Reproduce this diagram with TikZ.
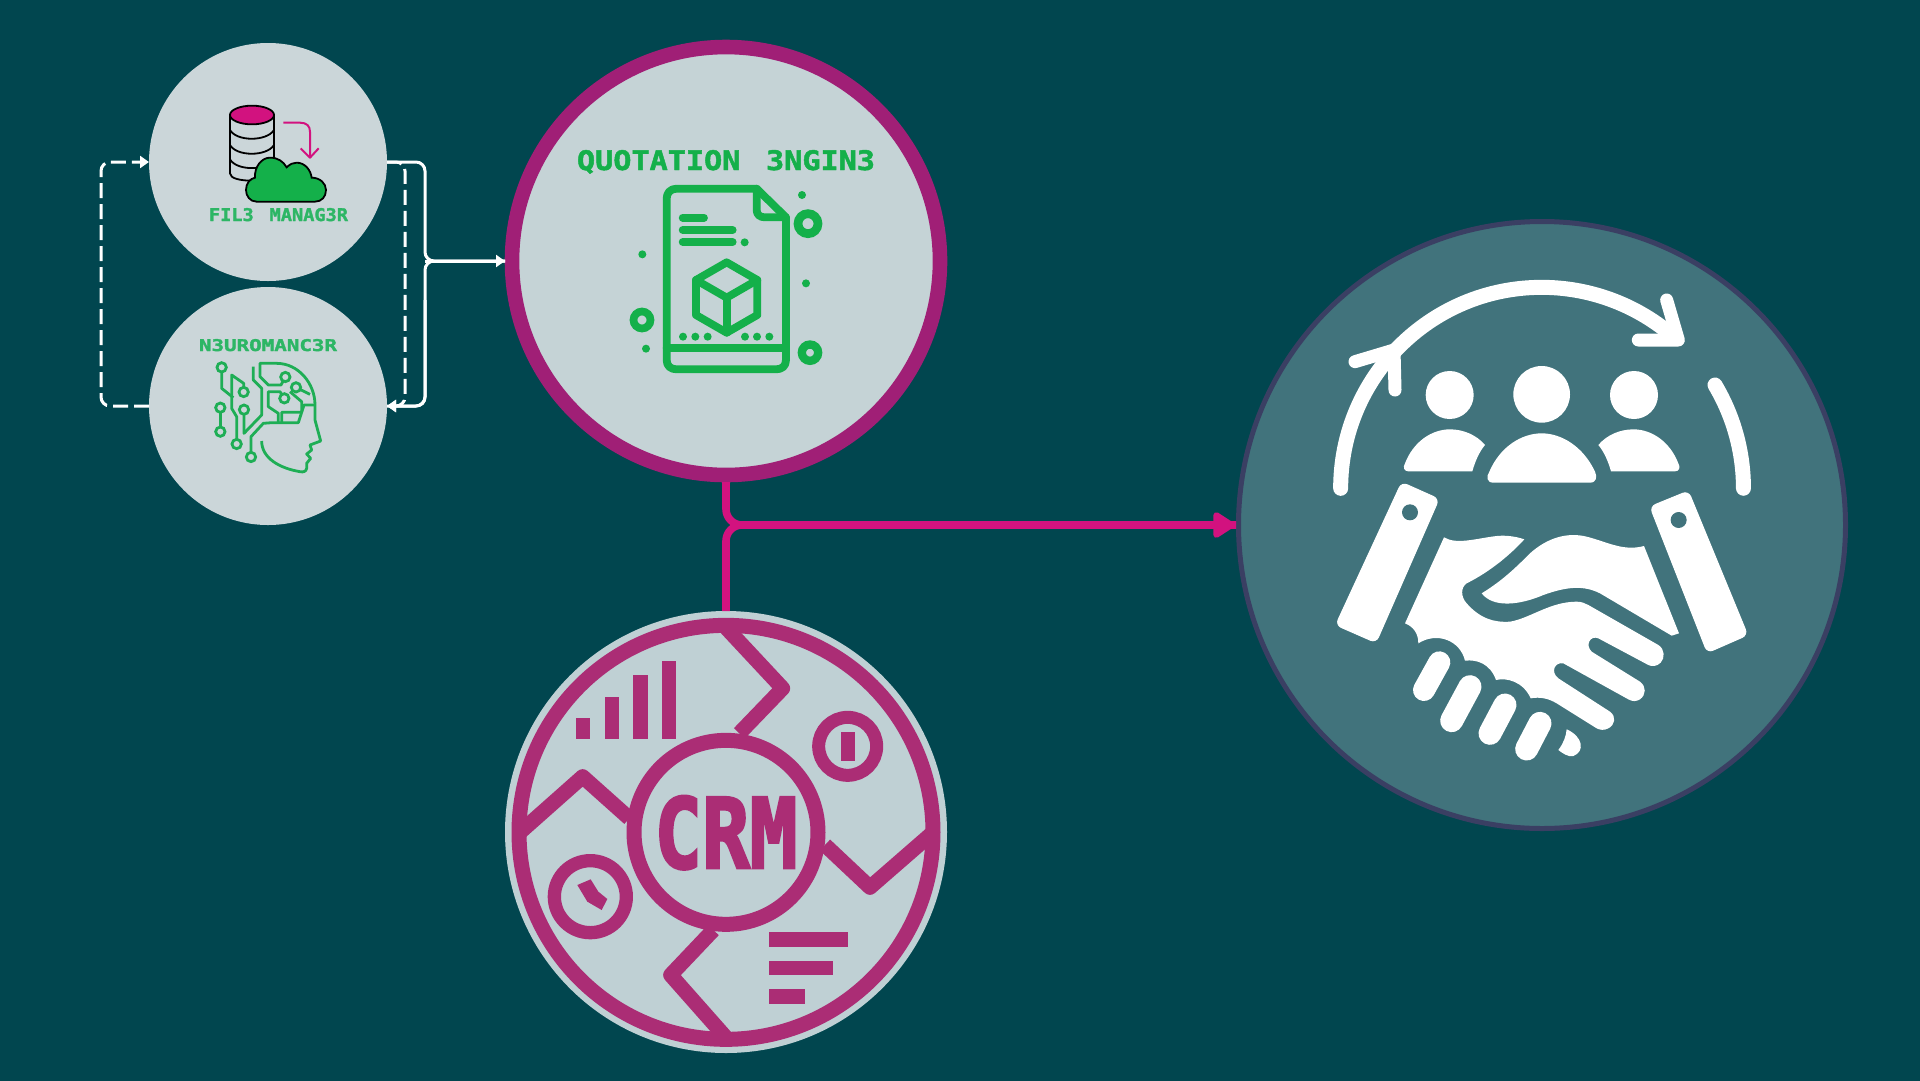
\documentclass[tikz,border=0pt]{standalone}
\usepackage{fontspec}
\usepackage{graphicx}
\usetikzlibrary{arrows.meta}
\newfontfamily\lblfont[FakeBold=1.6]{DejaVu Sans Mono}
\newfontfamily\crmfont[FakeBold=3]{DejaVu Sans Mono}
\newcommand{\fitlabel}[3]{\resizebox{#1pt}{#2pt}{\raisebox{0pt}[\height][0pt]{\lblfont\bfseries #3}}}
\definecolor{bgc}{HTML}{01464F}
\definecolor{discc}{HTML}{CBD6D9}
\definecolor{qfill}{HTML}{C5D3D6}
\definecolor{qring}{HTML}{A01F76}
\definecolor{cfill}{HTML}{BFD0D4}
\definecolor{cring}{HTML}{AB2D75}
\definecolor{custfill}{HTML}{41737C}
\definecolor{custring}{HTML}{3A3F63}
\definecolor{magline}{HTML}{D2127F}
\definecolor{gicon}{HTML}{14B04A}
\definecolor{gtext}{HTML}{2DB665}
\definecolor{ghead}{HTML}{1EAE55}
\tikzset{
  disc/.style={circle,inner sep=0pt,outer sep=0pt,minimum size=238pt,fill=discc},
  wire/.style={draw=white,line width=3pt,rounded corners=9pt},
  dashwire/.style={wire,dash pattern=on 15pt off 6pt},
  wtip/.style={-{Triangle[length=9pt,width=12pt]}},
  magwire/.style={draw=magline,line width=7.6pt,rounded corners=16pt},
  magtip/.style={-{Triangle[length=24pt,width=29pt,round]},shorten >=1.5pt},
  lbl/.style={inner sep=0pt,outer sep=0pt},
  doc/.style={draw=gicon,line width=7.8pt,line join=round,line cap=round},
  hd/.style={draw=ghead,line width=2.8pt,line join=round,fill=none},
  hdc/.style={draw=ghead,line width=2.8pt,fill=discc},
  crmline/.style={draw=cring,line width=15pt,line join=round},
  ww/.style={draw=white,line cap=round,line join=round},
}
\begin{document}
\begin{tikzpicture}[x=1pt,y=-1pt]
\useasboundingbox (0,0) rectangle (1920,1080);
\fill[bgc] (-5,-5) rectangle (1925,1085);
% main nodes
\node[disc] (fm) at (268,162) {};
\node[disc] (nm) at (268,406) {};
\node[circle,inner sep=0pt,outer sep=7pt,minimum size=428pt,fill=qfill,draw=qring,line width=14.6pt] (qe) at (726,261) {};
\node[circle,inner sep=0pt,outer sep=0pt,minimum size=442pt,fill=cfill] (crm) at (726,832) {};
\node[circle,inner sep=0pt,outer sep=2.5pt,minimum size=607pt,fill=custfill,draw=custring,line width=5pt] (cust) at (1542,525) {};
\coordinate (J) at (425,261);
\coordinate (dl) at (101,284);
\coordinate (dr) at (405,284);
% connectors
\draw[dashwire,wtip] (nm.west) -| (dl) |- (fm.west);
\draw[dashwire,wtip] (fm.east) -| (dr) |- (nm.east);
\draw[wire] (fm.east) -| (J) -- (qe.west);
\draw[wire,wtip] (J) -- (qe.west);
\draw[wire] (nm.east) -| (J) -- (qe.west);
\draw[wire,wtip] (425,300) |- (nm.east);
\draw[magwire] (crm.north) |- (cust.west);
\draw[magwire,magtip] (qe.south) |- (cust.west);
% ---------- file manager icon
\begin{scope}[shift={(90,30)},scale=1/3]
  \filldraw[draw=black,fill=discc,line width=1.8pt] (420,255) -- (420,430) .. controls (420,445) and (450,452) .. (486,452) -- (552,400) -- (552,255) -- cycle;
  \foreach \yy in {300,345,388}
    \draw[black,line width=1.8pt] (420,\yy) .. controls (440,\yy+35) and (530,\yy+35) .. (552,\yy);
  \filldraw[draw=black,fill=magline,line width=1.8pt] (486,255) ellipse (66 and 28);
  \draw[draw=magline,line width=2pt,line join=round] (580,278) -- (630,278) .. controls (650,278) and (660,288) .. (660,305) -- (660,381);
  \draw[draw=magline,line width=2pt,line join=round] (632,355) -- (660,383) -- (686,355);
  \filldraw[draw=black,fill=gicon,line width=1.8pt] (500,515) .. controls (480,515) and (468,498) .. (468,480) .. controls (468,460) and (480,446) .. (495,443) .. controls (493,410) and (515,383) .. (540,383) .. controls (565,383) and (580,395) .. (590,412) .. controls (600,402) and (610,398) .. (620,398) .. controls (645,398) and (662,420) .. (665,443) .. controls (690,443) and (708,460) .. (708,480) .. controls (708,500) and (695,515) .. (675,515) -- cycle;
\end{scope}
\node[lbl,text=gtext] (fmlabel) at (278.5,214.5) {\fitlabel{139}{13}{FIL3\hspace{0.25em} MANAG3R}};
\node[lbl,text=gtext] (nmlabel) at (268,345) {\fitlabel{138}{12}{N3UROMANC3R}};
% ---------- neuromancer icon
\begin{scope}[shift={(200,355)},scale=1/3]
  \draw[hd] (65,37) -- (65,100) -- (100,128);
  \draw[hd] (131,111) -- (131,85) -- (95,60) -- (95,160) -- (110,185) -- (110,267);
  \draw[hd] (132,164) -- (132,235) -- (185,180) -- (185,100) -- (160,75) -- (160,35);
  \draw[hd] (61,158) -- (61,230);
  \draw[hd] (153,306) -- (153,245) -- (190,205) -- (215,203) -- (295,203) -- (312,150) -- (345,150);
  \draw[hd] (256,66) -- (243,90) -- (205,90) -- (180,65) -- (180,25) -- (230,25) .. controls (295,25) and (345,85) .. (345,150) -- (345,195) -- (362,258) -- (330,270) -- (335,285) -- (320,297) -- (332,310) -- (320,325) -- (320,340) .. controls (318,350) and (310,352) .. (300,350) .. controls (240,340) and (185,310) .. (185,258);
  \draw[hd] (253,130) -- (240,110) -- (205,110) -- (205,155) -- (235,175) -- (235,203);
  \draw[hd] (288,97) -- (330,118);
  \draw[hd] (245,203) -- (245,172) -- (305,172) -- (305,140) -- (270,110);
  \foreach \px/\py in {65/37,131/111,61/158,132/164,61/230,110/267,153/306,256/66,288/97,253/130}
    \filldraw[hdc] (\px,\py) circle (14);
\end{scope}
% ---------- quotation engine icon
\node[lbl,text=gicon] (qelabel) at (726,160) {\fitlabel{298}{20}{QUOTATION\hspace{0.25em} 3NGIN3}};
\begin{scope}[shift={(560,130)},scale=1/3]
  \draw[doc] (590,176) -- (350,176) .. controls (330,176) and (320,190) .. (320,206) -- (320,690) .. controls (320,708) and (332,718) .. (350,718) -- (648,718) .. controls (666,718) and (678,708) .. (678,690) -- (678,262) -- cycle;
  \draw[doc] (590,176) -- (590,240) .. controls (590,254) and (600,262) .. (615,262) -- (678,262);
  \draw[doc] (320,655) -- (678,655);
  \draw[doc] (368,263) -- (432,263);
  \draw[doc] (368,300) -- (518,300);
  \draw[doc] (368,336) -- (518,336);
  \draw[doc] (500,397) -- (592,450) -- (592,555) -- (500,608) -- (408,555) -- (408,450) -- cycle;
  \draw[doc] (408,450) -- (500,503) -- (592,450);
  \draw[doc] (500,503) -- (500,608);
  \foreach \px/\py in {554/337,369/620,406/620,443/620,555/620,591/620,628/620,726/195,247/373,738/460,258/656}
    \fill[gicon] (\px,\py) circle (12);
  \draw[gicon,line width=8.7pt] (744,281) circle (30);
  \draw[gicon,line width=7.7pt] (246,570) circle (25.5);
  \draw[gicon,line width=8.3pt] (750,668) circle (24.5);
\end{scope}
% ---------- CRM icon
\node[lbl,text=cring] (crmlabel) at (726,832) {\resizebox{143pt}{72pt}{\raisebox{0pt}[\height][0pt]{\crmfont\bfseries CRM}}};
\begin{scope}[shift={(500,600)},scale=1/3]
  \draw[crmline] (678,697) circle (621);
  \draw[crmline] (678,697) circle (276);
  \draw[crmline] (680,85) -- (848,265) -- (718,400);
  \draw[crmline] (62,695) -- (248,530) -- (388,655);
  \draw[crmline] (975,735) -- (1110,862) -- (1296,700);
  \draw[crmline] (640,990) -- (512,1125) -- (680,1315);
  \fill[cring] (228,353) rectangle (271,418);
  \fill[cring] (314,290) rectangle (357,418);
  \fill[cring] (400,225) rectangle (443,418);
  \fill[cring] (485,183) rectangle (528,418);
  \draw[cring,line width=13pt] (1043,439) circle (87);
  \fill[cring] (1022,397) rectangle (1065,482);
  \draw[cring,line width=13.3pt] (271,890) circle (108);
  \fill[cring] (232,855) -- (272,838) -- (295,875) -- (322,897) -- (305,930) -- (262,905) -- cycle;
  \fill[cring] (807,997) rectangle (1043,1040);
  \fill[cring] (807,1082) rectangle (1000,1125);
  \fill[cring] (807,1167) rectangle (915,1211);
\end{scope}
% ---------- customer / handshake icon
\begin{scope}[shift={(1290,250)},scale=1/3]
  \draw[ww,line width=15pt] (152,715) arc[start angle=180,end angle=310,radius=603];
  \draw[ww,line width=15pt] (1275,405) arc[start angle=329.2,end angle=360,radius=605];
  \draw[ww,line width=13pt] (1130,150) -- (1165,270) -- (1045,270);
  \draw[ww,line width=13pt] (195,335) -- (312,300) -- (315,420);
  \fill[white] (755,433) circle (85);
  \fill[white] (479,435) circle (72);
  \fill[white] (1032,435) circle (72);
  \fill[white] (610,698) .. controls (590,698) and (588,680) .. (598,665) .. controls (630,590) and (695,550) .. (755,550) .. controls (815,550) and (880,590) .. (915,665) .. controls (922,680) and (920,698) .. (900,698) -- cycle;
  \fill[white] (355,664) .. controls (342,664) and (338,652) .. (345,640) .. controls (370,575) and (425,538) .. (480,538) .. controls (520,538) and (560,555) .. (585,585) .. controls (568,605) and (555,635) .. (547,664) -- cycle;
  \fill[white] (1155,664) .. controls (1168,664) and (1172,652) .. (1165,640) .. controls (1140,575) and (1085,538) .. (1030,538) .. controls (990,538) and (950,555) .. (925,585) .. controls (942,605) and (955,635) .. (963,664) -- cycle;
  \filldraw[white,rounded corners=6pt,line width=1pt] (335,697) -- (447,747) -- (258,1178) -- (137,1125) -- cycle;
  \filldraw[white,rounded corners=6pt,line width=1pt] (1195,723) -- (1080,770) -- (1252,1208) -- (1373,1155) -- cycle;
  \fill[custfill] (360,787) circle (24);
  \fill[custfill] (1166,810) circle (24);
  % left hand
  \fill[white] (462,862) .. controls (500,885) and (560,865) .. (620,858) .. controls (650,855) and (680,860) .. (703,868) .. controls (660,915) and (600,965) .. (530,1000) .. controls (512,1012) and (512,1040) .. (530,1060) .. controls (570,1105) and (610,1118) .. (660,1115) .. controls (720,1105) and (780,1055) .. (860,1055) .. controls (875,1055) and (885,1060) .. (895,1065) -- (1105,1185) .. controls (1125,1197) and (1125,1225) .. (1112,1238) .. controls (1100,1250) and (1085,1250) .. (1075,1245) -- (925,1165) .. controls (900,1155) and (885,1185) .. (905,1205) -- (1050,1295) .. controls (1070,1310) and (1068,1335) .. (1050,1348) .. controls (1038,1355) and (1028,1355) .. (1015,1348) -- (820,1240) .. controls (795,1235) and (780,1265) .. (805,1285) -- (960,1385) .. controls (980,1400) and (975,1425) .. (955,1435) .. controls (942,1442) and (930,1440) .. (920,1435) -- (800,1360) .. controls (775,1345) and (750,1340) .. (722,1345) .. controls (700,1295) and (650,1282) .. (618,1290) .. controls (600,1240) and (560,1228) .. (525,1232) .. controls (510,1170) and (440,1145) .. (385,1180) .. controls (385,1150) and (370,1130) .. (345,1120) -- cycle;
  % right hand
  \fill[white] (575,1030) .. controls (640,990) and (680,950) .. (720,910) .. controls (770,865) and (830,845) .. (890,860) .. controls (950,875) and (1000,905) .. (1062,888) -- (1167,1150) -- (1145,1157) -- (930,1030) .. controls (880,1005) and (830,1010) .. (760,1035) .. controls (690,1065) and (610,1075) .. (575,1030) -- cycle;
  % fingers
  \draw[ww,line width=22pt] (448,1237) -- (402,1320);
  \draw[ww,line width=23pt] (540,1310) -- (485,1412);
  \draw[ww,line width=23pt] (645,1365) -- (600,1450);
  \draw[ww,line width=23pt] (750,1420) -- (710,1497);
  \fill[white] (830,1438) .. controls (880,1460) and (885,1505) .. (850,1518) .. controls (835,1522) and (818,1510) .. (805,1500) .. controls (820,1480) and (828,1460) .. (830,1438) -- cycle;
\end{scope}
\end{tikzpicture}
\end{document}
